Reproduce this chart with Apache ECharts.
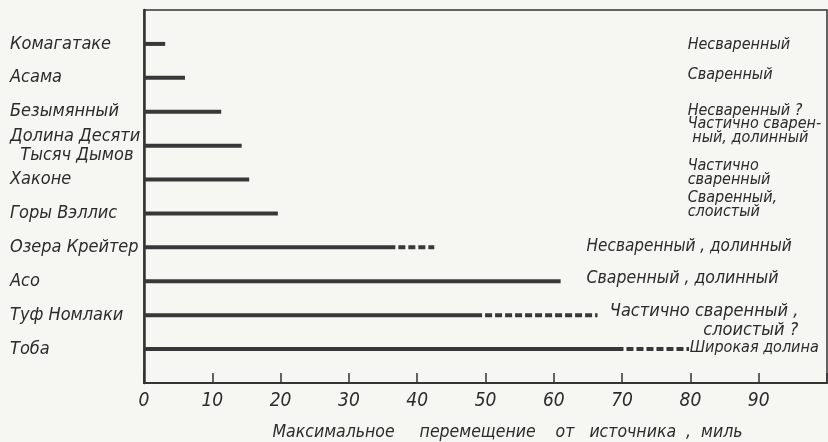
<!DOCTYPE html>
<html>
<head>
<meta charset="utf-8">
<script src="https://cdn.jsdelivr.net/npm/echarts@6/dist/echarts.min.js"></script>
<style>
html,body{margin:0;padding:0;background:#f6f6f3;}
#chart{width:828px;height:442px;}
</style>
</head>
<body>
<div id="chart"></div>
<script>
// ---- data ----
const names = ['Комагатаке', 'Асама', 'Безымянный', 'Долина Десяти\n  Тысяч Дымов', 'Хаконе',
  'Горы Вэллис', 'Озера Крейтер', 'Асо', 'Туф Номлаки', 'Тоба'];
const solidMiles = [3.1, 6.0, 11.3, 14.3, 15.4, 19.6, 36.8, 61.0, 49.5, 70.2];
const dashedMiles = [null, null, null, null, null, null, 42.5, null, 66.4, 79.8];
const notes = ['Несваренный', 'Сваренный', 'Несваренный ?', 'Частично сварен-\n ный, долинный',
  'Частично\nсваренный', 'Сваренный,\nслоистый', 'Несваренный , долинный', 'Сваренный , долинный',
  'Частично сваренный ,\nслоистый ?', 'Широкая долина'];
const xTicks = [0, 10, 20, 30, 40, 50, 60, 70, 80, 90];
const xTitle = 'Максимальное     перемещение    от   источника  ,  миль';

// ---- layout (not data) ----
const noteX = [79.6, 79.6, 79.6, 79.6, 79.6, 79.6, 64.8, 64.8, 95.8, 79.9];
const noteDy = [1, -3, -1, -15, -7, -9, -1, -3, 6, -1];
const noteSize = [16, 16, 16, 16, 16, 16, 17, 17.5, 18, 16];
const noteLH = [18, 18, 18, 14, 14, 14, 18, 18, 19, 18];
const noteRightAnchored = [false, false, false, false, false, false, false, false, true, false];

const FONT = "'DejaVu Sans Condensed', 'Liberation Sans Narrow', 'DejaVu Sans', sans-serif";
const INK = '#2b2b2b';

const cats = [''].concat(names, ['']);
const barData = [null].concat(solidMiles, [null]);
const dashData = [];
dashedMiles.forEach((d, i) => { if (d != null) dashData.push([solidMiles[i], d, i + 1]); });
const noteData = notes.map((t, i) => ({
  value: [noteX[i], i + 1],
  label: {
    show: true,
    formatter: t,
    position: noteRightAnchored[i] ? 'left' : 'right',
    distance: 0,
    offset: [0, noteDy[i]],
    fontSize: noteSize[i],
    lineHeight: noteLH[i],
    fontStyle: 'italic',
    fontFamily: FONT,
    color: INK
  }
}));

const chart = echarts.init(document.getElementById('chart'), null, {renderer: 'canvas'});
chart.setOption({
  backgroundColor: '#f6f6f3',
  animation: false,
  grid: {left: 144, right: 1, top: 10, bottom: 59, show: true, borderColor: '#333', borderWidth: 1.5,
    containLabel: false, outerBoundsMode: 'none'},
  xAxis: {
    type: 'value', min: 0, max: 100, interval: 10,
    name: xTitle, nameLocation: 'middle', nameGap: 40,
    nameTextStyle: {fontSize: 17.5, fontStyle: 'italic', fontFamily: FONT, color: INK, padding: [0, 0, 0, 44]},
    axisLine: {show: true, lineStyle: {color: '#333', width: 2}},
    axisTick: {show: true, inside: true, length: 10, lineStyle: {color: '#333', width: 1.5}},
    axisLabel: {
      margin: 9, fontSize: 19, fontStyle: 'italic', fontFamily: FONT, color: INK,
      formatter: v => (xTicks.indexOf(v) >= 0 ? String(v) : '')
    },
    splitLine: {show: false}
  },
  yAxis: {
    type: 'category', data: cats, inverse: true, boundaryGap: false,
    axisLine: {show: true, lineStyle: {color: '#333', width: 2.5}},
    axisTick: {show: false},
    axisLabel: {align: 'left', margin: 134, fontSize: 18, lineHeight: 19, fontStyle: 'italic', fontFamily: FONT, color: INK},
    splitLine: {show: false}
  },
  series: [
    {type: 'bar', data: barData, barWidth: 4, itemStyle: {color: '#383838'}},
    {
      type: 'custom', data: dashData, encode: {x: [0, 1], y: 2},
      renderItem: (params, api) => {
        const p1 = api.coord([api.value(0), api.value(2)]);
        const p2 = api.coord([api.value(1), api.value(2)]);
        return {type: 'line', shape: {x1: p1[0] + 3, y1: p1[1], x2: p2[0], y2: p2[1]},
          style: {stroke: '#383838', lineWidth: 4, lineDash: [7, 3]}};
      }
    },
    {type: 'scatter', data: noteData, symbolSize: 0, silent: true, itemStyle: {opacity: 1}}
  ]
});
</script>
</body>
</html>
